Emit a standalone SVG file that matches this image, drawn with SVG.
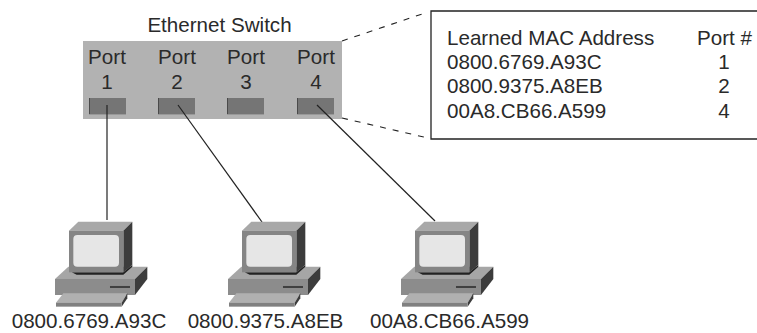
<svg xmlns="http://www.w3.org/2000/svg" width="757" height="333" viewBox="0 0 757 333">
<style>
text{font-family:"Liberation Sans",Arial,sans-serif;font-size:20.600px;fill:#2a2a2a}
.m{text-anchor:middle}
.port{fill:#757575}
.pe{stroke:#4a4a4a;stroke-width:1;fill:none}
.ph{stroke:#999;stroke-width:1;fill:none}
.wire{stroke:#222;stroke-width:1.2;fill:none}
.dash{stroke:#222;stroke-width:1.1;fill:none;stroke-dasharray:6 7}
</style>
<defs>
<g id="pc" transform="scale(0.3333)">
<polygon points="45,207 85,170 322,170 285,207" fill="#a6a6a6"/>
<polygon points="285,207 322,170 322,207 285,255" fill="#3c3c3c"/>
<rect x="45" y="207" width="240" height="48" fill="#8c8c8c"/>
<rect x="210" y="228" width="60" height="6" fill="#404040"/>
<polygon points="95,187 250,187 277,165 277,170 250,194 110,194" fill="#222"/>
<polygon points="87,62 115,35 277,35 250,62" fill="#a8a8a8"/>
<polygon points="250,62 277,35 277,165 250,187" fill="#3c3c3c"/>
<rect x="87" y="62" width="163" height="125" fill="#858585"/>
<rect x="100" y="75" width="137" height="95" rx="12" fill="#e6e6e6"/>
<polygon points="48,278 70,250 262,250 245,278" fill="#b0b0b0"/>
<polygon points="245,278 262,250 262,265 245,290" fill="#3c3c3c"/>
<rect x="48" y="278" width="197" height="12" fill="#808080"/>
</g>
</defs>
<g id="switch">
<rect x="83" y="41" width="259" height="78" fill="#b2b2b2"/>
<text class="m" x="219.500" y="32">Ethernet Switch</text>
</g>
<g id="port1"><text class="m" x="107" y="64">Port</text><text class="m" x="107" y="89">1</text><rect class="port" x="89" y="98" width="37" height="16"/><path class="pe" d="M89.500 98v16"/><path class="ph" d="M89 114.500h37"/></g>
<g id="port2"><text class="m" x="177" y="64">Port</text><text class="m" x="177" y="89">2</text><rect class="port" x="158" y="98" width="37" height="16"/><path class="pe" d="M158.500 98v16"/><path class="ph" d="M158 114.500h37"/></g>
<g id="port3"><text class="m" x="246" y="64">Port</text><text class="m" x="246" y="89">3</text><rect class="port" x="227" y="98" width="37" height="16"/><path class="pe" d="M227.500 98v16"/><path class="ph" d="M227 114.500h37"/></g>
<g id="port4"><text class="m" x="316" y="64">Port</text><text class="m" x="316" y="89">4</text><rect class="port" x="297" y="98" width="37" height="16"/><path class="pe" d="M297.500 98v16"/><path class="ph" d="M297 114.500h37"/></g>
<g id="mac-table">
<path d="M757 11H431V139H757" fill="#fff" stroke="#222" stroke-width="1.3"/>
<text x="447" y="45">Learned MAC Address</text>
<text x="697" y="45">Port #</text>
<text x="447" y="69">0800.6769.A93C</text><text class="m" x="724" y="69">1</text>
<text x="447" y="93">0800.9375.A8EB</text><text class="m" x="724" y="93">2</text>
<text x="447" y="118">00A8.CB66.A599</text><text class="m" x="724" y="118">4</text>
</g>
<g id="connectors">
<path class="wire" d="M107 105V220"/>
<path class="wire" d="M178 105L262 222"/>
<path class="wire" d="M317 105L435 221"/>
<path class="dash" d="M342 41L428 12"/>
<path class="dash" d="M342 118L428 138"/>
</g>
<g id="pc1"><use href="#pc" transform="translate(40 210)"/><text class="m" x="89" y="328.400">0800.6769.A93C</text></g>
<g id="pc2"><use href="#pc" transform="translate(213 210)"/><text class="m" x="265.500" y="328.400">0800.9375.A8EB</text></g>
<g id="pc3"><use href="#pc" transform="translate(386 210)"/><text class="m" x="449.500" y="328.400">00A8.CB66.A599</text></g>
</svg>
